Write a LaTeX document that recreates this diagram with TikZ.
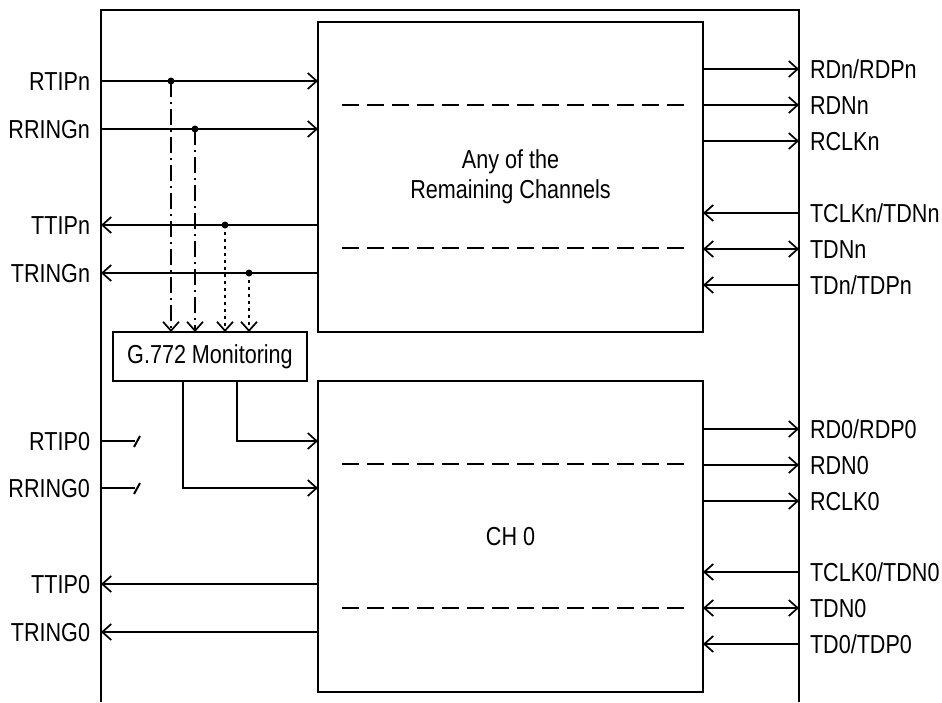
\documentclass[tikz,border=0pt]{standalone}
\usepackage{fontspec}
\setmainfont{Liberation Sans}[FakeStretch=0.83]
\usetikzlibrary{arrows.meta}
\begin{document}
\begin{tikzpicture}[x=1pt,y=-1pt, line width=2pt,
  >={Straight Barb[length=9pt,width=16pt,line width=1.7pt]},
  font=\fontsize{26}{30}\selectfont,
  blk/.style={draw, minimum width=385pt, inner sep=0pt, outer sep=0pt, anchor=north west, align=center},
  lbl/.style={inner sep=0pt, anchor=base east},
  rlbl/.style={inner sep=0pt, anchor=base west},
  sig/.style={->},
  sepline/.style={dash pattern=on 17pt off 8pt},
  tapdot/.style={circle, fill, inner sep=0pt, minimum size=7pt},
  dashdotline/.style={->, dash pattern=on 16pt off 5pt on 2pt off 5pt},
  dotline/.style={->, dash pattern=on 3pt off 4pt}]
\useasboundingbox (0,0) rectangle (942,702);
% frame
\draw (101,702) -- (101,10) -- (799,10) -- (799,702);
% blocks
\node[blk, minimum height=310pt] (up) at (318,22) {Any of the\\Remaining Channels};
\node[blk, minimum height=311pt] (low) at (318,381) {CH 0};
\node[draw, minimum width=194pt, minimum height=49pt, inner sep=0pt, outer sep=0pt, anchor=north west] (mon) at (113,332) {G.772 Monitoring};
% separator lines
\draw[sepline] (342,105) -- (684,105);
\draw[sepline] (342,248) -- (684,248);
\draw[sepline] (342,464) -- (684,464);
\draw[sepline] (342,608) -- (684,608);
% left frame coordinates
\coordinate (fRTIPn) at (101,81);
\coordinate (fRRINGn) at (101,129);
\coordinate (fTTIPn) at (101,225);
\coordinate (fTRINGn) at (101,273);
\coordinate (fRTIP0) at (101,441);
\coordinate (fRRING0) at (101,488);
\coordinate (fTTIP0) at (101,584);
\coordinate (fTRING0) at (101,632);
% left labels
\node[lbl] (tRTIPn) at (91,90.3) {RTIPn};
\node[lbl] (tRRINGn) at (91,138.3) {RRINGn};
\node[lbl] (tTTIPn) at (91,234.3) {TTIPn};
\node[lbl] (tTRINGn) at (91,282.3) {TRINGn};
\node[lbl] (tRTIP0) at (91,450.3) {RTIP0};
\node[lbl] (tRRING0) at (91,497.3) {RRING0};
\node[lbl] (tTTIP0) at (91,593.3) {TTIP0};
\node[lbl] (tTRING0) at (91,641.3) {TRING0};
% left connectors
\draw[sig] (fRTIPn) -- (fRTIPn -| up.west);
\draw[sig] (fRRINGn) -- (fRRINGn -| up.west);
\draw[sig] (fTTIPn -| up.west) -- (fTTIPn);
\draw[sig] (fTRINGn -| up.west) -- (fTRINGn);
\draw[sig] (fTTIP0 -| low.west) -- (fTTIP0);
\draw[sig] (fTRING0 -| low.west) -- (fTRING0);
% taps
\node[tapdot] (d1) at (171,81) {};
\node[tapdot] (d2) at (195,129) {};
\node[tapdot] (d3) at (225,225) {};
\node[tapdot] (d4) at (249,273) {};
\draw[dashdotline] (d1.center) -- (d1 |- mon.north);
\draw[dashdotline] (d2.center) -- (d2 |- mon.north);
\draw[dotline] (d3.center) -- (d3 |- mon.north);
\draw[dotline] (d4.center) -- (d4 |- mon.north);
% open switches
\coordinate (sw1) at (135,441);
\coordinate (sw2) at (135,488);
\draw (fRTIP0) -- (sw1);
\draw ([shift={(-1,6)}]sw1) -- ([shift={(5,-5)}]sw1);
\draw (fRRING0) -- (sw2);
\draw ([shift={(-1,6)}]sw2) -- ([shift={(5,-5)}]sw2);
% monitoring outputs to CH 0
\coordinate (m1) at (237,441);
\coordinate (m2) at (183,488);
\draw[sig] (mon.south -| m1) -- (m1) -- (m1 -| low.west);
\draw[sig] (mon.south -| m2) -- (m2) -- (m2 -| low.west);
% right frame coordinates
\coordinate (gRDn) at (799,69);
\coordinate (gRDNn) at (799,105);
\coordinate (gRCLKn) at (799,141);
\coordinate (gTCLKn) at (799,213);
\coordinate (gTDNn) at (799,249);
\coordinate (gTDn) at (799,285);
\coordinate (gRD0) at (799,429);
\coordinate (gRDN0) at (799,465);
\coordinate (gRCLK0) at (799,501);
\coordinate (gTCLK0) at (799,572);
\coordinate (gTDN0) at (799,608);
\coordinate (gTD0) at (799,644);
% right connectors
\draw[sig] (gRDn -| up.east) -- (gRDn);
\draw[sig] (gRDNn -| up.east) -- (gRDNn);
\draw[sig] (gRCLKn -| up.east) -- (gRCLKn);
\draw[sig] (gTCLKn) -- (gTCLKn -| up.east);
\draw[<->] (gTDNn) -- (gTDNn -| up.east);
\draw[sig] (gTDn) -- (gTDn -| up.east);
\draw[sig] (gRD0 -| low.east) -- (gRD0);
\draw[sig] (gRDN0 -| low.east) -- (gRDN0);
\draw[sig] (gRCLK0 -| low.east) -- (gRCLK0);
\draw[sig] (gTCLK0) -- (gTCLK0 -| low.east);
\draw[<->] (gTDN0) -- (gTDN0 -| low.east);
\draw[sig] (gTD0) -- (gTD0 -| low.east);
% right labels
\node[rlbl] (tRDn) at (809,78.3) {RDn/RDPn};
\node[rlbl] (tRDNn) at (809,114.3) {RDNn};
\node[rlbl] (tRCLKn) at (809,150.3) {RCLKn};
\node[rlbl] (tTCLKn) at (809,222.3) {TCLKn/TDNn};
\node[rlbl] (tTDNn) at (809,258.3) {TDNn};
\node[rlbl] (tTDn) at (809,294.3) {TDn/TDPn};
\node[rlbl] (tRD0) at (809,438.3) {RD0/RDP0};
\node[rlbl] (tRDN0) at (809,474.3) {RDN0};
\node[rlbl] (tRCLK0) at (809,510.3) {RCLK0};
\node[rlbl] (tTCLK0) at (809,581.3) {TCLK0/TDN0};
\node[rlbl] (tTDN0) at (809,617.3) {TDN0};
\node[rlbl] (tTD0) at (809,653.3) {TD0/TDP0};
\end{tikzpicture}
\end{document}
